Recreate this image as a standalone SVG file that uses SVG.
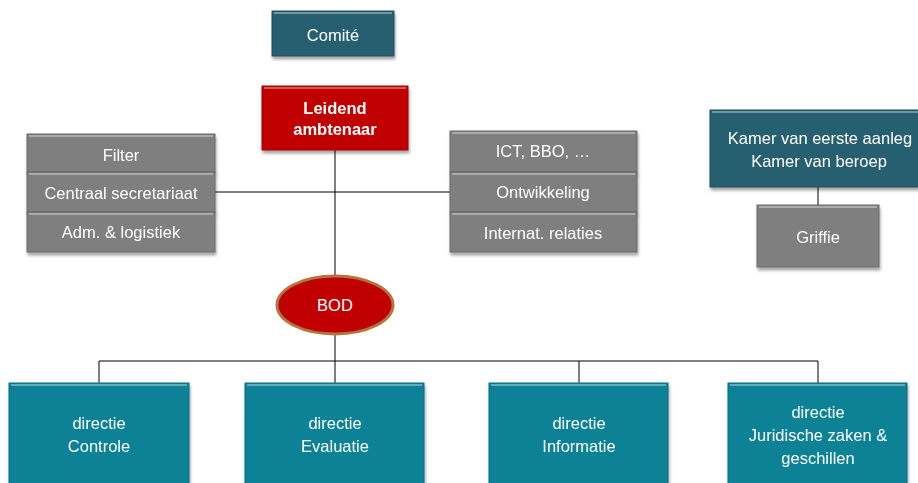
<svg xmlns="http://www.w3.org/2000/svg" width="918" height="483" viewBox="0 0 918 483">
<defs>
<filter id="sh" x="-10%" y="-10%" width="125%" height="135%">
<feDropShadow dx="1" dy="3" stdDeviation="1.5" flood-color="#000" flood-opacity="0.35"/>
</filter>
</defs>
<style>
.t{font-family:"Liberation Sans","Open Sans",Arial,sans-serif;font-size:16.5px;fill:#fff;text-anchor:middle}
.b{font-weight:bold}
.gray{fill:#7f7f7f;stroke:#6a6a6a;stroke-width:1}
.teal{fill:#27606f;stroke:#1f4f5c;stroke-width:1}
.red{fill:#c00000;stroke:#a00000;stroke-width:1}
.dir{fill:#0b8296;stroke:#0a6f80;stroke-width:1}
.hl{fill:none;stroke:#fff;stroke-opacity:0.35;stroke-width:2}
.ln{stroke:#000;stroke-width:1;fill:none}
</style>
<rect width="918" height="483" fill="#fff"/>
<g id="connectors">
<line class="ln" x1="335" y1="150" x2="335" y2="383"/>
<line class="ln" x1="215" y1="192" x2="450" y2="192"/>
<line class="ln" x1="99" y1="361" x2="818" y2="361"/>
<line class="ln" x1="99" y1="361" x2="99" y2="383"/>
<line class="ln" x1="579" y1="361" x2="579" y2="383"/>
<line class="ln" x1="818" y1="361" x2="818" y2="383"/>
<line class="ln" x1="818" y1="187" x2="818" y2="205"/>
</g>
<g id="comite" filter="url(#sh)">
<rect class="teal" x="272" y="11" width="122" height="45"/>
<path class="hl" d="M274 13H392"/>
<text class="t" x="333" y="41">Comité</text>
</g>
<g id="leidend" filter="url(#sh)">
<rect class="red" x="262" y="86" width="146" height="64"/>
<path class="hl" d="M264 88H406"/>
<text class="t b" x="335" y="114">Leidend</text>
<text class="t b" x="335" y="135">ambtenaar</text>
</g>
<g id="filter" filter="url(#sh)">
<rect class="gray" x="27" y="134" width="188" height="38"/>
<path class="hl" d="M29 136H213"/>
<text class="t" x="121" y="161">Filter</text>
</g>
<g id="centraal" filter="url(#sh)">
<rect class="gray" x="27" y="172" width="188" height="40"/>
<path class="hl" d="M29 174H213"/>
<text class="t" x="121" y="199">Centraal secretariaat</text>
</g>
<g id="adm" filter="url(#sh)">
<rect class="gray" x="27" y="212" width="188" height="40"/>
<path class="hl" d="M29 214H213"/>
<text class="t" x="121" y="238">Adm. &amp; logistiek</text>
</g>
<g id="ict" filter="url(#sh)">
<rect class="gray" x="450" y="131" width="187" height="41"/>
<path class="hl" d="M452 133H635"/>
<text class="t" x="543" y="157">ICT, BBO, …</text>
</g>
<g id="ontwikkeling" filter="url(#sh)">
<rect class="gray" x="450" y="172" width="187" height="40"/>
<path class="hl" d="M452 174H635"/>
<text class="t" x="543" y="198">Ontwikkeling</text>
</g>
<g id="internat" filter="url(#sh)">
<rect class="gray" x="450" y="212" width="187" height="40"/>
<path class="hl" d="M452 214H635"/>
<text class="t" x="543" y="239">Internat. relaties</text>
</g>
<g id="kamer" filter="url(#sh)">
<rect class="teal" x="710" y="110" width="210" height="77"/>
<path class="hl" d="M712 112H918"/>
<text class="t" x="820" y="144">Kamer van eerste aanleg</text>
<text class="t" x="819" y="167">Kamer van beroep</text>
</g>
<g id="griffie" filter="url(#sh)">
<rect class="gray" x="757" y="205" width="122" height="62"/>
<path class="hl" d="M759 207H877"/>
<text class="t" x="818" y="243">Griffie</text>
</g>
<g id="bod">
<ellipse cx="335" cy="305" rx="58" ry="29" fill="#c00000" stroke="#b5763e" stroke-width="3"/>
<text class="t" x="335" y="311">BOD</text>
</g>
<g id="controle" filter="url(#sh)">
<rect class="dir" x="9" y="383" width="180" height="102"/>
<path class="hl" d="M11 385H187"/>
<text class="t" x="99" y="429">directie</text>
<text class="t" x="99" y="452">Controle</text>
</g>
<g id="evaluatie" filter="url(#sh)">
<rect class="dir" x="245" y="383" width="179" height="102"/>
<path class="hl" d="M247 385H422"/>
<text class="t" x="335" y="429">directie</text>
<text class="t" x="335" y="452">Evaluatie</text>
</g>
<g id="informatie" filter="url(#sh)">
<rect class="dir" x="489" y="383" width="179" height="102"/>
<path class="hl" d="M491 385H666"/>
<text class="t" x="579" y="429">directie</text>
<text class="t" x="579" y="452">Informatie</text>
</g>
<g id="juridische" filter="url(#sh)">
<rect class="dir" x="728" y="383" width="179" height="102"/>
<path class="hl" d="M730 385H905"/>
<text class="t" x="818" y="418">directie</text>
<text class="t" x="818" y="441">Juridische zaken &amp;</text>
<text class="t" x="818" y="464">geschillen</text>
</g>
</svg>
